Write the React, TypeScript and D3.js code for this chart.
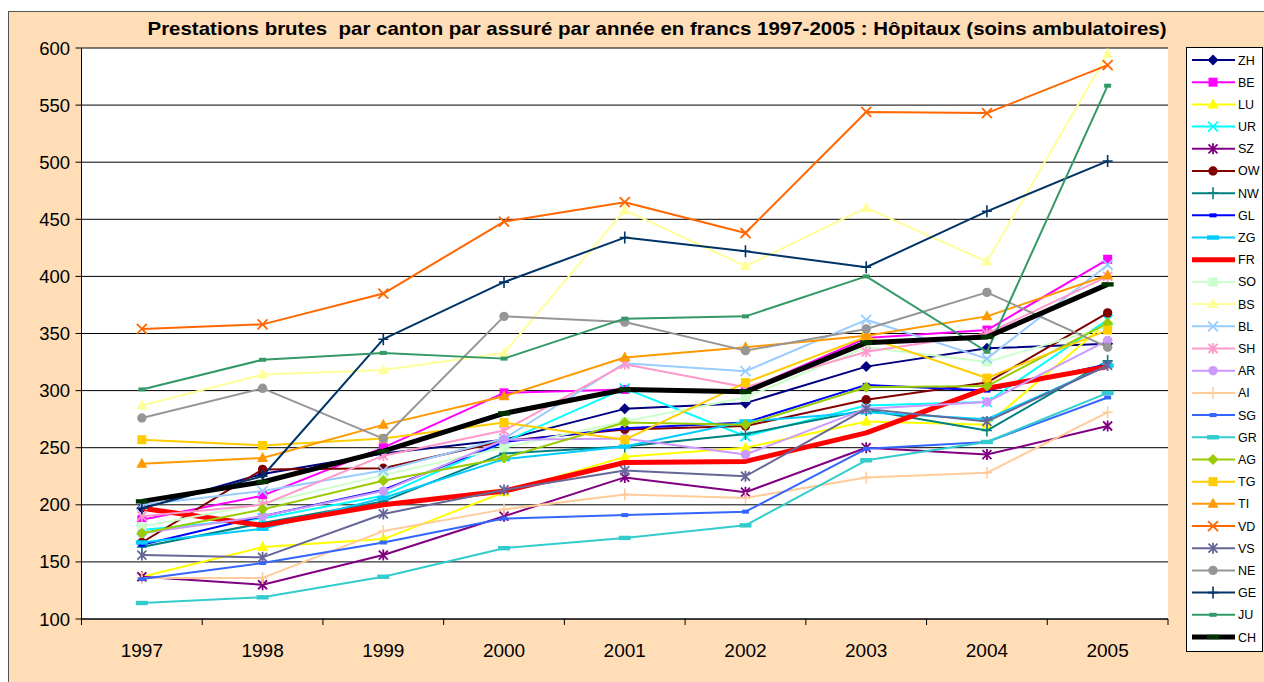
import React from "react";
import * as d3 from "d3";

const years = ["1997", "1998", "1999", "2000", "2001", "2002", "2003", "2004", "2005"];
const yTicks = [100, 150, 200, 250, 300, 350, 400, 450, 500, 550, 600];
const title = "Prestations brutes  par canton par assuré par année en francs 1997-2005 : Hôpitaux (soins ambulatoires)";

const cantons = ["ZH","BE","LU","UR","SZ","OW","NW","GL","ZG","FR","SO","BS","BL","SH","AR","AI","SG","GR","AG","TG","TI","VD","VS","NE","GE","JU","CH"];

const ZH = [197, 227, 245, 257, 284, 289, 321, 337, 341];
const BE = [187, 208, 250, 298, 301, 300, 346, 353, 415];
const LU = [137, 163, 170, 211, 242, 250, 273, 270, 360];
const UR = [178, 188, 208, 255, 302, 260, 287, 290, 362];
const SZ = [137, 130, 156, 190, 224, 211, 250, 244, 269];
const OW = [167, 231, 232, 256, 266, 269, 292, 307, 368];
const NW = [163, 184, 203, 245, 251, 262, 283, 265, 326];
const GL = [165, 190, 213, 255, 267, 272, 305, 300, 323];
const ZG = [167, 179, 206, 240, 251, 273, 281, 275, 322];
const FR = [197, 182, 200, 212, 237, 238, 263, 302, 321];
const SO = [181, 201, 226, 250, 273, 294, 338, 325, 356];
const BS = [287, 314, 318, 333, 458, 409, 460, 413, 595];
const BL = [200, 212, 230, 258, 324, 317, 362, 328, 410];
const SH = [190, 200, 243, 265, 323, 303, 334, 350, 400];
const AR = [175, 190, 212, 257, 258, 244, 284, 290, 344];
const AI = [136, 136, 177, 196, 209, 206, 224, 228, 281];
const SG = [135, 149, 167, 188, 191, 194, 249, 255, 294];
const GR = [114, 119, 137, 162, 171, 182, 239, 255, 298];
const AG = [175, 196, 221, 241, 272, 270, 303, 304, 359];
const TG = [257, 252, 258, 272, 257, 307, 347, 311, 353];
const TI = [236, 241, 270, 295, 329, 338, 348, 365, 401];
const VD = [354, 358, 385, 448, 465, 438, 544, 543, 585];
const VS = [156, 154, 192, 213, 230, 225, 284, 273, 322];
const NE = [276, 302, 258, 365, 360, 335, 354, 386, 338];
const GE = [197, 225, 345, 395, 434, 422, 408, 457, 501];
const JU = [301, 327, 333, 328, 363, 365, 400, 334, 567];
const CH = [203, 220, 247, 280, 301, 299, 342, 347, 393];

const values: Record<string, number[]> = { ZH, BE, LU, UR, SZ, OW, NW, GL, ZG, FR, SO, BS, BL, SH, AR, AI, SG, GR, AG, TG, TI, VD, VS, NE, GE, JU, CH };

type Style = { color: string; marker: string; mcolor?: string; width?: number };
const styles: Record<string, Style> = {
  ZH: { color: "#000080", marker: "diamond" },
  BE: { color: "#FF00FF", marker: "square" },
  LU: { color: "#FFFF00", marker: "triangle" },
  UR: { color: "#00FFFF", marker: "x" },
  SZ: { color: "#800080", marker: "star" },
  OW: { color: "#800000", marker: "circle" },
  NW: { color: "#008080", marker: "plus" },
  GL: { color: "#0000FF", marker: "dash" },
  ZG: { color: "#00CCFF", marker: "longdash" },
  FR: { color: "#FF0000", marker: "none", width: 5 },
  SO: { color: "#CCFFCC", marker: "square" },
  BS: { color: "#FFFF99", marker: "triangle" },
  BL: { color: "#99CCFF", marker: "x" },
  SH: { color: "#FF99CC", marker: "star" },
  AR: { color: "#CC99FF", marker: "circle" },
  AI: { color: "#FFCC99", marker: "plus" },
  SG: { color: "#3366FF", marker: "dash" },
  GR: { color: "#33CCCC", marker: "longdash" },
  AG: { color: "#99CC00", marker: "diamond" },
  TG: { color: "#FFCC00", marker: "square" },
  TI: { color: "#FF9900", marker: "triangle" },
  VD: { color: "#FF6600", marker: "x" },
  VS: { color: "#666699", marker: "star" },
  NE: { color: "#969696", marker: "circle" },
  GE: { color: "#003366", marker: "plus" },
  JU: { color: "#339966", marker: "dash" },
  CH: { color: "#000000", marker: "longdash", mcolor: "#003300", width: 5 },
};

function Marker({ type, x, y, color }: { type: string; x: number; y: number; color: string }) {
  switch (type) {
    case "diamond":
      return <path d={`M${x},${y - 5.5}L${x + 5.5},${y}L${x},${y + 5.5}L${x - 5.5},${y}Z`} fill={color} />;
    case "square":
      return <rect x={x - 4.5} y={y - 4.5} width={9} height={9} fill={color} />;
    case "triangle":
      return <path d={`M${x},${y - 6}L${x + 5.5},${y + 4}L${x - 5.5},${y + 4}Z`} fill={color} />;
    case "circle":
      return <circle cx={x} cy={y} r={4.7} fill={color} />;
    case "x":
      return <path d={`M${x - 5},${y - 5}L${x + 5},${y + 5}M${x - 5},${y + 5}L${x + 5},${y - 5}`} stroke={color} strokeWidth={1.8} fill="none" />;
    case "star":
      return <path d={`M${x - 4.5},${y - 4.5}L${x + 4.5},${y + 4.5}M${x - 4.5},${y + 4.5}L${x + 4.5},${y - 4.5}M${x},${y - 5.5}L${x},${y + 5.5}`} stroke={color} strokeWidth={1.8} fill="none" />;
    case "plus":
      return <path d={`M${x - 5},${y}L${x + 5},${y}M${x},${y - 6}L${x},${y + 6}`} stroke={color} strokeWidth={1.6} fill="none" />;
    case "dash":
      return <rect x={x - 3.5} y={y - 2} width={7} height={4} fill={color} />;
    case "longdash":
      return <rect x={x - 6} y={y - 2.2} width={12} height={4.4} fill={color} />;
    default:
      return null;
  }
}

export default function App() {
  const W = 1264, H = 682;
  const left = 81.5, right = 1168, top = 48, bottom = 619;
  const x = d3.scaleBand<string>().domain(years).range([left, right]);
  const cx = (yr: string) => (x(yr) as number) + x.bandwidth() / 2;
  const y = d3.scaleLinear().domain([100, 600]).range([bottom, top]);
  const line = d3.line<number>().x((_, i) => cx(years[i])).y((v) => y(v));
  const font = "'Liberation Sans', Arial, sans-serif";
  const legX = 1186, legY = 47, legW = 76, legH = 604;
  const legStep = (637 - 60) / 26;

  return (
    <svg width={W} height={H} style={{ position: "absolute", left: 0, top: 0 }} fontFamily={font}>
      <rect x={0} y={0} width={W} height={H} fill="#fff" />
      <rect x={8.5} y={11.5} width={W + 10} height={H + 10} fill="#FFDDB7" stroke="#555" strokeWidth={1} />
      <text x={657} y={35} textAnchor="middle" fontSize={19} fontWeight="bold" fill="#000"
        textLength={1019} lengthAdjust="spacingAndGlyphs" style={{ whiteSpace: "pre" }}>{title}</text>
      <rect x={left} y={top} width={right - left} height={bottom - top} fill="#fff" />
      {yTicks.map((t) => (
        <g key={t}>
          <line x1={left} x2={right} y1={y(t)} y2={y(t)} stroke="#000" strokeWidth={1} />
          <line x1={left - 6} x2={left} y1={y(t)} y2={y(t)} stroke="#000" strokeWidth={1} />
          <text x={70} y={y(t) + 6.5} textAnchor="end" fontSize={18.5}>{t}</text>
        </g>
      ))}
      <line x1={left} x2={left} y1={top} y2={bottom} stroke="#000" strokeWidth={1} />
      {years.map((yr) => (
        <g key={yr}>
          <line x1={x(yr) as number} x2={x(yr) as number} y1={bottom} y2={bottom + 6} stroke="#000" />
          <text x={cx(yr)} y={657} textAnchor="middle" fontSize={19}>{yr}</text>
        </g>
      ))}
      <line x1={right} x2={right} y1={bottom} y2={bottom + 6} stroke="#000" />
      {cantons.map((c) => {
        const s = styles[c];
        const v = values[c];
        return (
          <g key={c}>
            <path d={line(v) || ""} fill="none" stroke={s.color} strokeWidth={s.width || 2} strokeLinejoin="round" />
            {v.map((val, i) => (
              <Marker key={i} type={s.marker} x={cx(years[i])} y={y(val)} color={s.mcolor || s.color} />
            ))}
          </g>
        );
      })}
      <line x1={left} x2={right} y1={bottom} y2={bottom} stroke="#000" strokeWidth={1} />
      <rect x={legX + 0.5} y={legY + 0.5} width={legW} height={legH} fill="#fff" stroke="#000" strokeWidth={1} />
      {cantons.map((c, i) => {
        const s = styles[c];
        const ly = 60 + i * legStep;
        return (
          <g key={c}>
            <line x1={1192} x2={1235} y1={ly} y2={ly} stroke={s.color} strokeWidth={s.width || 2} />
            <Marker type={s.marker} x={1213} y={ly} color={s.mcolor || s.color} />
            <text x={1238} y={ly + 4.5} fontSize={12.5}>{c}</text>
          </g>
        );
      })}
    </svg>
  );
}
